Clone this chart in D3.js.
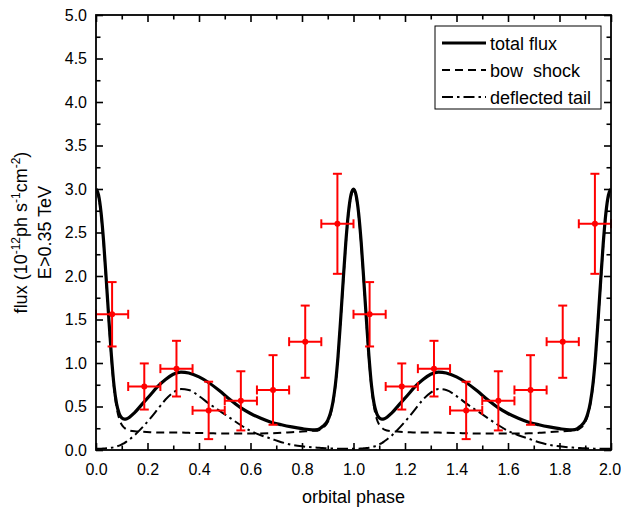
<!DOCTYPE html>
<html><head><meta charset="utf-8">
<script src="https://cdn.jsdelivr.net/npm/d3@7/dist/d3.min.js"></script>
<style>
body{margin:0;background:#fff;}
text{font-family:"Liberation Sans",Arial,sans-serif;}
</style></head>
<body><svg id="c" width="621" height="513"></svg>
<script>
// ---- data ----
const modelPhase = [0,0.01,0.02,0.03,0.04,0.05,0.06,0.07,0.08,0.09,0.10,0.11,0.12,0.15,0.18,0.21,0.24,0.27,0.30,0.33,0.36,0.40,0.44,0.48,0.52,0.56,0.60,0.64,0.68,0.72,0.76,0.80,0.84,0.86,0.88,0.90,0.91,0.92,0.93,0.94,0.95,0.96,0.97,0.98,0.99,
1.00,1.01,1.02,1.03,1.04,1.05,1.06,1.07,1.08,1.09,1.10,1.11,1.12,1.15,1.18,1.21,1.24,1.27,1.30,1.33,1.36,1.40,1.44,1.48,1.52,1.56,1.60,1.64,1.68,1.72,1.76,1.80,1.84,1.86,1.88,1.90,1.91,1.92,1.93,1.94,1.95,1.96,1.97,1.98,1.99,2.00];
const totalFlux = [3.0,2.93,2.72,2.38,1.95,1.5,1.08,0.74,0.53,0.42,0.37,0.355,0.36,0.43,0.53,0.63,0.73,0.81,0.87,0.895,0.885,0.84,0.77,0.68,0.58,0.49,0.42,0.365,0.32,0.29,0.265,0.245,0.232,0.235,0.27,0.34,0.42,0.55,0.76,1.08,1.5,1.95,2.38,2.72,2.93,
3.0,2.93,2.72,2.38,1.95,1.5,1.08,0.74,0.53,0.42,0.37,0.355,0.36,0.43,0.53,0.63,0.73,0.81,0.87,0.895,0.885,0.84,0.77,0.68,0.58,0.49,0.42,0.365,0.32,0.29,0.265,0.245,0.232,0.235,0.27,0.34,0.42,0.55,0.76,1.08,1.5,1.95,2.38,2.72,2.93,3.0];
const bowShock = [2.98,2.91,2.7,2.36,1.93,1.48,1.05,0.71,0.49,0.36,0.29,0.255,0.235,0.215,0.21,0.205,0.2,0.2,0.2,0.2,0.197,0.195,0.193,0.19,0.19,0.19,0.19,0.19,0.192,0.197,0.205,0.212,0.22,0.222,0.25,0.32,0.40,0.53,0.74,1.06,1.48,1.93,2.36,2.7,2.91,
2.98,2.91,2.7,2.36,1.93,1.48,1.05,0.71,0.49,0.36,0.29,0.255,0.235,0.215,0.21,0.205,0.2,0.2,0.2,0.2,0.197,0.195,0.193,0.19,0.19,0.19,0.19,0.19,0.192,0.197,0.205,0.212,0.22,0.222,0.25,0.32,0.40,0.53,0.74,1.06,1.48,1.93,2.36,2.7,2.91,2.98];
const deflectedTail = [0.015,0.015,0.015,0.017,0.02,0.022,0.026,0.032,0.04,0.05,0.065,0.08,0.10,0.17,0.26,0.36,0.47,0.58,0.66,0.70,0.69,0.62,0.53,0.45,0.37,0.29,0.22,0.17,0.13,0.09,0.06,0.042,0.03,0.026,0.022,0.02,0.018,0.017,0.016,0.015,0.015,0.015,0.015,0.015,0.015,
0.015,0.015,0.015,0.017,0.02,0.022,0.026,0.032,0.04,0.05,0.065,0.08,0.10,0.17,0.26,0.36,0.47,0.58,0.66,0.70,0.69,0.62,0.53,0.45,0.37,0.29,0.22,0.17,0.13,0.09,0.06,0.042,0.03,0.026,0.022,0.02,0.018,0.017,0.016,0.015,0.015,0.015,0.015,0.015,0.015,0.015];

const obsPhase = [0.0625,0.1875,0.3125,0.4375,0.5625,0.6875,0.8125,0.9375,1.0625,1.1875,1.3125,1.4375,1.5625,1.6875,1.8125,1.9375];
const obsFlux  = [1.56,0.73,0.935,0.455,0.565,0.69,1.245,2.6,1.56,0.73,0.935,0.455,0.565,0.69,1.245,2.6];
const obsErr   = [0.37,0.265,0.32,0.33,0.34,0.40,0.415,0.575,0.37,0.265,0.32,0.33,0.34,0.40,0.415,0.575];
const phaseErr = [0.0625,0.0625,0.0625,0.0625,0.0625,0.0625,0.0625,0.0625,0.0625,0.0625,0.0625,0.0625,0.0625,0.0625,0.0625,0.0625];

const xMajor = [0,0.2,0.4,0.6,0.8,1.0,1.2,1.4,1.6,1.8,2.0];
const xMinor = [0.1,0.3,0.5,0.7,0.9,1.1,1.3,1.5,1.7,1.9];
const yMajor = [0,0.5,1.0,1.5,2.0,2.5,3.0,3.5,4.0,4.5,5.0];
const yMinor = [0.25,0.75,1.25,1.75,2.25,2.75,3.25,3.75,4.25,4.75];
const legendLabels = ["total flux","bow  shock","deflected tail"];

// ---- drawing ----
const L=96,R=611,T=15,B=450;
const x=d3.scaleLinear().domain([0,2]).range([L,R]);
const y=d3.scaleLinear().domain([0,5]).range([B,T]);
const svg=d3.select("#c");
const fmt=d3.format(".1f");

svg.append("defs").append("clipPath").attr("id","clip")
  .append("rect").attr("x",L).attr("y",T).attr("width",R-L).attr("height",B-T);

function styleAxis(g){
  g.select(".domain").remove();
  g.selectAll("line").attr("stroke","#000").attr("stroke-width",1.6);
  g.selectAll("text").attr("font-size",16).attr("fill","#000")
   .attr("font-family","'Liberation Sans',Arial,sans-serif");
}
const MJ=7,MN=4.5;
const xb=svg.append("g").attr("transform",`translate(0,${B})`)
  .call(d3.axisBottom(x).tickValues(xMajor).tickFormat(fmt).tickSize(-MJ).tickPadding(14))
  .call(styleAxis);
xb.selectAll("text").filter(d=>d===2).attr("dx",-1.5);
svg.append("g").attr("transform",`translate(0,${B})`)
  .call(d3.axisBottom(x).tickValues(xMinor).tickFormat("").tickSize(-MN)).call(styleAxis);
svg.append("g").attr("transform",`translate(0,${T})`)
  .call(d3.axisTop(x).tickValues(xMajor).tickFormat("").tickSize(-MJ)).call(styleAxis);
svg.append("g").attr("transform",`translate(0,${T})`)
  .call(d3.axisTop(x).tickValues(xMinor).tickFormat("").tickSize(-MN)).call(styleAxis);
svg.append("g").attr("transform",`translate(${L},0)`)
  .call(d3.axisLeft(y).tickValues(yMajor).tickFormat(fmt).tickSize(-MJ).tickPadding(9))
  .call(styleAxis);
svg.append("g").attr("transform",`translate(${L},0)`)
  .call(d3.axisLeft(y).tickValues(yMinor).tickFormat("").tickSize(-MN)).call(styleAxis);
svg.append("g").attr("transform",`translate(${R},0)`)
  .call(d3.axisRight(y).tickValues(yMajor).tickFormat("").tickSize(-MJ)).call(styleAxis);
svg.append("g").attr("transform",`translate(${R},0)`)
  .call(d3.axisRight(y).tickValues(yMinor).tickFormat("").tickSize(-MN)).call(styleAxis);

// model curves
const plot=svg.append("g").attr("clip-path","url(#clip)");
function lineOf(vals){
  return d3.line().x((d,i)=>x(modelPhase[i])).y(d=>y(d)).curve(d3.curveMonotoneX)(vals);
}
plot.append("path").attr("d",lineOf(deflectedTail)).attr("fill","none")
  .attr("stroke","#000").attr("stroke-width",2).attr("stroke-dasharray","11,4,2.5,4");
plot.append("path").attr("d",lineOf(bowShock)).attr("fill","none")
  .attr("stroke","#000").attr("stroke-width",2).attr("stroke-dasharray","8,5");
plot.append("path").attr("d",lineOf(totalFlux)).attr("fill","none")
  .attr("stroke","#000").attr("stroke-width",3.2);

// data points
const red="#ff0000";
const pts=svg.append("g").selectAll("g").data(obsPhase).join("g");
pts.append("line").attr("x1",(d,i)=>x(d-phaseErr[i])).attr("x2",(d,i)=>x(d+phaseErr[i]))
  .attr("y1",(d,i)=>y(obsFlux[i])).attr("y2",(d,i)=>y(obsFlux[i])).attr("stroke",red).attr("stroke-width",2);
pts.append("line").attr("x1",d=>x(d)).attr("x2",d=>x(d))
  .attr("y1",(d,i)=>y(obsFlux[i]-obsErr[i])).attr("y2",(d,i)=>y(obsFlux[i]+obsErr[i])).attr("stroke",red).attr("stroke-width",2);
[-1,1].forEach(s=>{
  pts.append("line").attr("x1",d=>x(d)-4.5).attr("x2",d=>x(d)+4.5)
    .attr("y1",(d,i)=>y(obsFlux[i]+s*obsErr[i])).attr("y2",(d,i)=>y(obsFlux[i]+s*obsErr[i])).attr("stroke",red).attr("stroke-width",2);
  pts.append("line").attr("y1",(d,i)=>y(obsFlux[i])-4.5).attr("y2",(d,i)=>y(obsFlux[i])+4.5)
    .attr("x1",(d,i)=>x(d+s*phaseErr[i])).attr("x2",(d,i)=>x(d+s*phaseErr[i])).attr("stroke",red).attr("stroke-width",2);
});
pts.append("circle").attr("cx",d=>x(d)).attr("cy",(d,i)=>y(obsFlux[i])).attr("r",3).attr("fill",red);

// frame
svg.append("rect").attr("x",L).attr("y",T).attr("width",R-L).attr("height",B-T)
  .attr("fill","none").attr("stroke","#000").attr("stroke-width",1.8);

// legend
const lg=svg.append("g");
lg.append("rect").attr("x",435).attr("y",26).attr("width",166).attr("height",83)
  .attr("fill","#fff").attr("stroke","#000").attr("stroke-width",1);
const dashes=[null,"8,5","11,4,2.5,4"], widths=[3.2,2,2], ly=[43,70,97];
legendLabels.forEach((t,i)=>{
  lg.append("line").attr("x1",442).attr("x2",486).attr("y1",ly[i]).attr("y2",ly[i])
    .attr("stroke","#000").attr("stroke-width",widths[i]).attr("stroke-dasharray",dashes[i]);
  lg.append("text").attr("x",490).attr("y",ly[i]+6.5).attr("font-size",18)
    .style("white-space","pre").text(t);
});

// axis titles
svg.append("text").attr("x",(L+R)/2).attr("y",503).attr("text-anchor","middle")
  .attr("font-size",18).text("orbital phase");
const yt=svg.append("text").attr("transform",`translate(27,${(T+B)/2}) rotate(-90)`)
  .attr("text-anchor","middle").attr("font-size",18).style("white-space","pre");
yt.append("tspan").text("flux (10");
yt.append("tspan").attr("font-size",12).attr("dy",-7).text("-12");
yt.append("tspan").attr("dy",7).text("ph s");
yt.append("tspan").attr("font-size",12).attr("dy",-7).text("-1");
yt.append("tspan").attr("dy",7).text("cm");
yt.append("tspan").attr("font-size",12).attr("dy",-7).text("-2");
yt.append("tspan").attr("dy",7).text(")");
svg.append("text").attr("transform",`translate(51,${(T+B)/2}) rotate(-90)`)
  .attr("text-anchor","middle").attr("font-size",18).text("E>0.35 TeV");
</script></body></html>
